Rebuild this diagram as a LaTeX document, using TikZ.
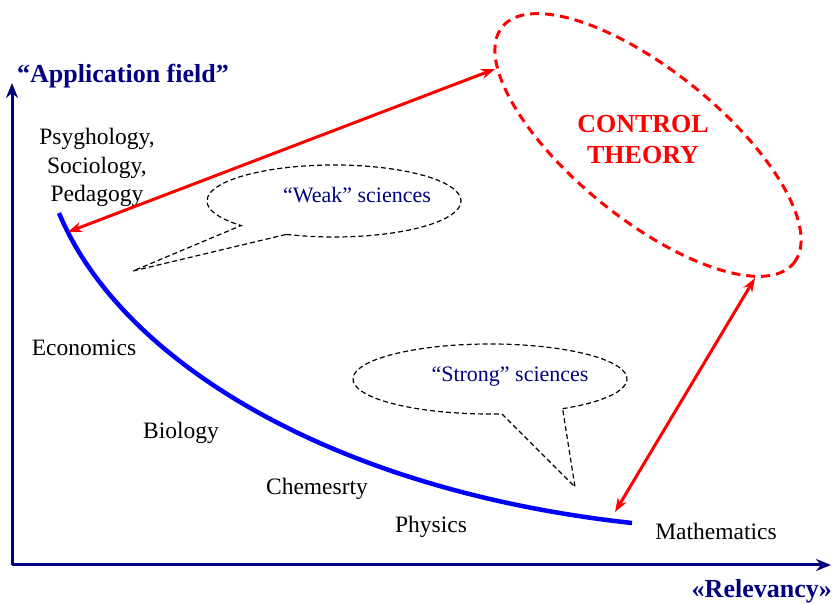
\documentclass[tikz,border=0pt]{standalone}
\usepackage{fontspec}
\setmainfont{Liberation Serif}
\usetikzlibrary{arrows.meta}
\definecolor{navyb}{RGB}{0,0,128}
\begin{document}
\begin{tikzpicture}[x=1pt,y=1pt,
  axis/.style={navyb, line width=3pt, -{Stealth[length=15pt,width=12pt]}},
  lbl/.style={font=\fontsize{23.5}{28.5}\selectfont, inner sep=0pt, anchor=base, align=center},
  ttl/.style={font=\fontsize{26}{30}\selectfont\bfseries, text=navyb, inner sep=0pt},
  ctl/.style={font=\fontsize{26}{31}\selectfont\bfseries, text=red, inner sep=0pt, anchor=base, align=center},
  calltext/.style={font=\fontsize{22}{26}\selectfont, text=navyb, inner sep=0pt, anchor=base},
  callout/.style={draw=black, line width=1.2pt, dash pattern=on 5pt off 3pt, line join=miter},
  curve/.style={blue, line width=4.5pt},
  redarr/.style={red, line width=3pt, {Stealth[length=14pt,width=10pt]}-{Stealth[length=14pt,width=10pt]}},
  ctell/.style={red, line width=3pt, dash pattern=on 9pt off 6pt}
]
\useasboundingbox (0,0) rectangle (832,604);

% axes
\coordinate (o) at (12,39);
\coordinate (ytip) at (12,521);
\coordinate (xtip) at (831,39);
\draw[axis] (o) -- (ytip);
\draw[axis] (o) -- (xtip);
\node[ttl, anchor=base west] (ylab) at (17,521) {“Application field”};
\node[ttl, anchor=base east] (xlab) at (832,6) {«Relevancy»};

% science labels
\node[lbl] (psy) at (97,402) {Psyghology,\\Sociology,\\Pedagogy};
\node[lbl] (eco) at (84,248) {Economics};
\node[lbl] (bio) at (181,165) {Biology};
\node[lbl] (che) at (317,109) {Chemesrty};
\node[lbl] (phy) at (431,71) {Physics};
\node[lbl] (mat) at (716,64) {Mathematics};

% blue curve
\coordinate (cs) at (59,391);
\coordinate (ce) at (632,81);
\draw[curve] (cs) .. controls (120,244) and (330,114) .. (ce);

% control theory ellipse
\coordinate (ctc) at (648,459);
\draw[ctell, rotate around={-39:(ctc)}] (ctc) ellipse [x radius=187.6pt, y radius=74.1pt];
\node[ctl] (ct) at (643,440) {CONTROL\\THEORY};

% red arrows
\coordinate (ctA) at (495,535);
\coordinate (psyA) at (68,372);
\coordinate (ctB) at (755,326);
\coordinate (matB) at (615,92);
\draw[redarr] (psyA) -- (ctA);
\draw[redarr] (matB) -- (ctB);

% weak callout
\coordinate (wtip) at (133,333);
\draw[callout] (334,403) ++(248:127pt and 36pt) arc[start angle=248, end angle=583, x radius=127pt, y radius=36pt] -- (wtip) -- cycle;
\node[calltext] (weak) at (357,401) {“Weak” sciences};

% strong callout
\coordinate (stip) at (575,117);
\draw[callout] (490,225) ++(302:137pt and 35pt) arc[start angle=302, end angle=635, x radius=137pt, y radius=35pt] -- (stip) -- cycle;
\node[calltext] (strong) at (510,222) {“Strong” sciences};
\end{tikzpicture}
\end{document}
